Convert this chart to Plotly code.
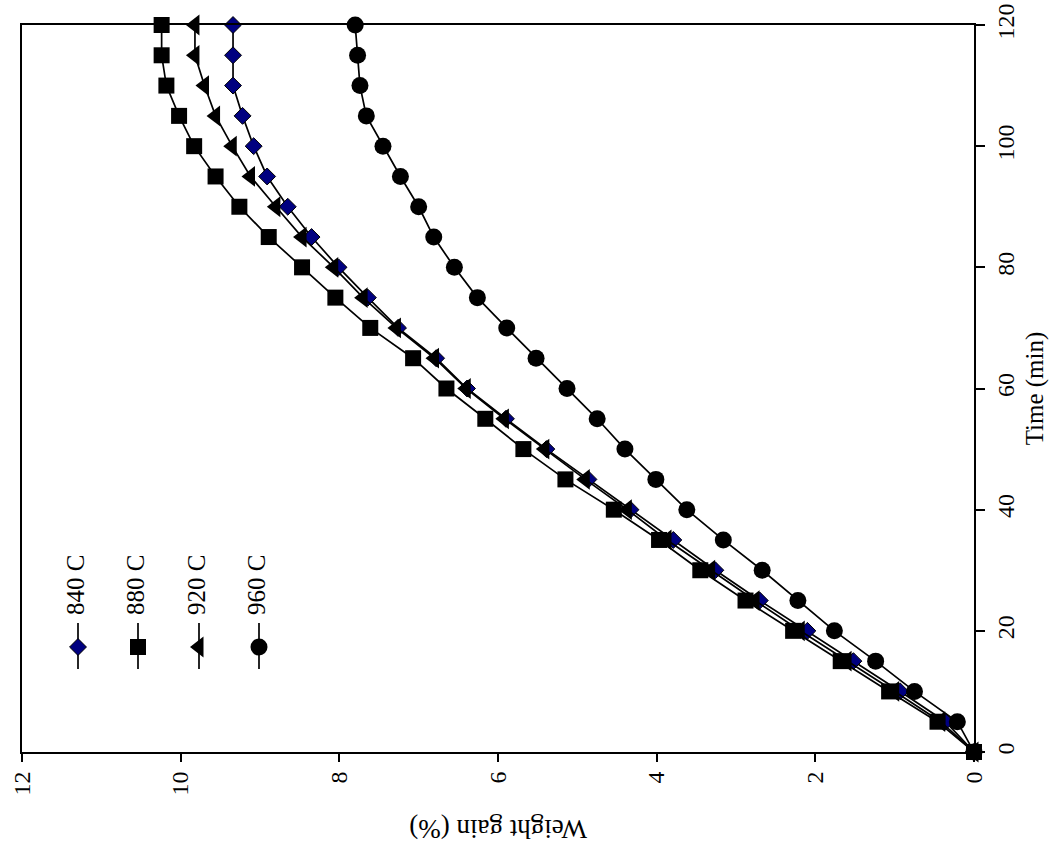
import plotly.graph_objects as go

# ---- data ----
time_min = [0, 5, 10, 15, 20, 25, 30, 35, 40, 45, 50, 55, 60, 65, 70, 75, 80, 85, 90, 95, 100, 105, 110, 115, 120]
w840 = [0, 0.36, 0.93, 1.52, 2.10, 2.70, 3.26, 3.79, 4.33, 4.86, 5.39, 5.90, 6.39, 6.78, 7.26, 7.64, 8.01, 8.35, 8.65, 8.91, 9.08, 9.22, 9.34, 9.34, 9.34]
w880 = [0, 0.46, 1.07, 1.68, 2.28, 2.88, 3.45, 3.97, 4.54, 5.15, 5.68, 6.16, 6.65, 7.07, 7.61, 8.05, 8.47, 8.89, 9.26, 9.56, 9.83, 10.02, 10.18, 10.24, 10.24]
w920 = [0, 0.42, 1.00, 1.60, 2.19, 2.76, 3.32, 3.87, 4.37, 4.90, 5.41, 5.92, 6.40, 6.80, 7.28, 7.70, 8.07, 8.47, 8.80, 9.12, 9.35, 9.56, 9.70, 9.82, 9.82]
w960 = [0, 0.21, 0.75, 1.24, 1.76, 2.22, 2.67, 3.16, 3.62, 4.01, 4.40, 4.75, 5.13, 5.52, 5.89, 6.26, 6.55, 6.81, 7.00, 7.23, 7.45, 7.66, 7.74, 7.77, 7.80]
series_names = ["840 C", "880 C", "920 C", "960 C"]
weight_ticks = [0, 2, 4, 6, 8, 10, 12]
time_ticks = [0, 20, 40, 60, 80, 100, 120]

FONT = "Liberation Serif, Times New Roman, serif"

styles = [
    dict(symbol="diamond", size=13, color="#000080", line=dict(color="black", width=1)),
    dict(symbol="square", size=16, color="black", line=dict(color="black", width=0)),
    dict(symbol="triangle-left", size=18, color="black", line=dict(color="black", width=0)),
    dict(symbol="circle", size=17, color="black", line=dict(color="black", width=0)),
]
series = [w840, w880, w920, w960]

fig = go.Figure()
for name, ys, st in zip(series_names, series, styles):
    fig.add_trace(go.Scatter(
        x=ys, y=time_min, mode="lines+markers", name=name,
        line=dict(color="black", width=1.7),
        marker=dict(st, opacity=1), cliponaxis=False, showlegend=False,
    ))

# ---- rotated legend, drawn on an overlay pixel-like axis ----
leg_x = [78, 138, 199, 259]
leg_marker_y = 647
leg_line = (623, 669)
leg_text_y = 585
fig.add_trace(go.Scatter(
    x=leg_x, y=[leg_marker_y] * 4, mode="lines+markers", xaxis="x2", yaxis="y2",
    line=dict(width=0, color="rgba(0,0,0,0)"),
    marker=dict(symbol=[s["symbol"] for s in styles], size=[s["size"] for s in styles],
                color=[s["color"] for s in styles], opacity=1,
                line=dict(color="black", width=[s["line"]["width"] for s in styles])),
    cliponaxis=False, showlegend=False, hoverinfo="skip",
))
shapes = []
for lx in leg_x:
    shapes.append(dict(type="line", xref="x2", yref="y2", x0=lx, x1=lx,
                       y0=leg_line[0], y1=leg_line[1], line=dict(color="black", width=1.7),
                       layer="below"))
annotations = []
for lx, name in zip(leg_x, series_names):
    annotations.append(dict(x=lx, y=leg_text_y, xref="x2", yref="y2", text=name,
                            textangle=-90, showarrow=False, xanchor="center", yanchor="middle",
                            xshift=-3,
                            font=dict(family=FONT, size=25, color="black")))
# upside-down weight axis title
annotations.append(dict(x=0.5, y=-0.106, xref="paper", yref="paper", text="Weight gain (%)",
                        textangle=180, showarrow=False, xanchor="center", yanchor="middle",
                        font=dict(family=FONT, size=27, color="black")))

fig.update_layout(
    width=1061, height=850,
    margin=dict(l=22, r=87, t=25, b=98, autoexpand=False),
    paper_bgcolor="white", plot_bgcolor="white",
    font=dict(family=FONT, color="black"),
    xaxis=dict(range=[12, 0], tickvals=weight_ticks, tickangle=-90, automargin=False,
               showline=True, linecolor="black", linewidth=2, mirror=True,
               ticks="outside", ticklen=8, tickwidth=1.5, tickcolor="black",
               showgrid=False, zeroline=False, tickfont=dict(family=FONT, size=24)),
    yaxis=dict(range=[0, 120], tickvals=time_ticks, tickangle=-90, side="right", automargin=False,
               showline=True, linecolor="black", linewidth=2, mirror=True,
               ticks="outside", ticklen=9, tickwidth=1.5, tickcolor="black",
               showgrid=False, zeroline=False, tickfont=dict(family=FONT, size=24),
               title=dict(text="Time (min)", font=dict(family=FONT, size=25), standoff=8)),
    xaxis2=dict(range=[22, 974], overlaying="x", anchor="y2", visible=False),
    yaxis2=dict(range=[752, 25], overlaying="y", anchor="x2", visible=False),
    shapes=shapes,
    annotations=annotations,
)

fig.write_html("out.html")
